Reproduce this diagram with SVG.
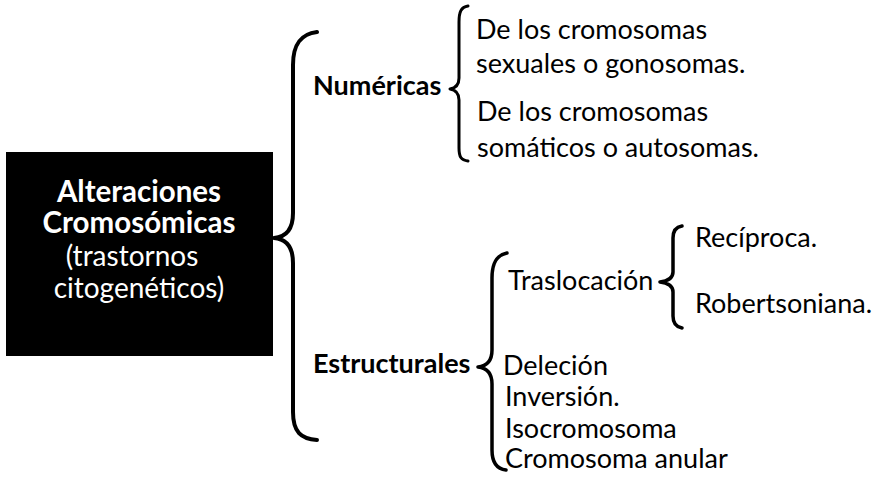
<svg xmlns="http://www.w3.org/2000/svg" width="879" height="478" viewBox="0 0 879 478">
<style>
.t{font-family:Lato,"Open Sans","Liberation Sans",sans-serif;font-size:27px;fill:#000}
.b{font-family:Lato,"Open Sans","Liberation Sans",sans-serif;font-size:27px;font-weight:bold;fill:#000}
.bw{font-family:Lato,"Open Sans","Liberation Sans",sans-serif;font-size:29.5px;font-weight:bold;fill:#fff}
.tw{font-family:Lato,"Open Sans","Liberation Sans",sans-serif;font-size:28px;fill:#fff}
.br{fill:none;stroke:#000;stroke-linecap:round;stroke-linejoin:round}
</style>
<rect width="879" height="478" fill="#fff"/>
<g id="root">
<rect x="6" y="152" width="267" height="204" fill="#000"/>
<text class="bw" x="139" y="202" text-anchor="middle">Alteraciones</text>
<text class="bw" x="139" y="233" text-anchor="middle">Cromosómicas</text>
<text class="tw" x="132" y="266" text-anchor="middle">(trastornos</text>
<text class="tw" x="139" y="298" text-anchor="middle">citogenéticos)</text>
</g>
<g id="connectors">
<path class="br" stroke-width="4" d="M317,32 C301,34 293,44 293,65 L293,213 C293,230 286,237 274,238 C286,239 293,246 293,263 L293,412 C293,432 301,439 317,440"/>
<path class="br" stroke-width="3" d="M468,6 C461,7 459,12 459,22 L459,78 C459,85 456,88 450,89 C456,90 459,93 459,100 L459,148 C459,157 461,160 468,161"/>
<path class="br" stroke-width="3.5" d="M507,253 C497,255 492,262 492,278 L492,350 C492,360 487,366 478,367 C487,368 492,374 492,384 L492,450 C492,463 497,469 506,470"/>
<path class="br" stroke-width="3.5" d="M682,226 C676,227 673,231 673,238 L673,272 C673,278 668,281 660,282 C668,283 673,286 673,292 L673,316 C673,323 676,327 682,328"/>
</g>
<g id="numericas">
<text class="b" x="313" y="95">Numéricas</text>
</g>
<g id="sexuales">
<text class="t" x="476" y="39">De los cromosomas</text>
<text class="t" x="476" y="73">sexuales o gonosomas.</text>
</g>
<g id="somaticos">
<text class="t" x="477" y="121">De los cromosomas</text>
<text class="t" x="477" y="157">somáticos o autosomas.</text>
</g>
<g id="estructurales">
<text class="b" x="313" y="373">Estructurales</text>
</g>
<g id="traslocacion">
<text class="t" x="508" y="290">Traslocación</text>
</g>
<g id="reciproca">
<text class="t" x="695" y="247">Recíproca.</text>
</g>
<g id="robertsoniana">
<text class="t" x="695" y="313">Robertsoniana.</text>
</g>
<g id="delecion">
<text class="t" x="503" y="375">Deleción</text>
</g>
<g id="inversion">
<text class="t" x="505" y="406">Inversión.</text>
</g>
<g id="isocromosoma">
<text class="t" x="505" y="438">Isocromosoma</text>
</g>
<g id="anular">
<text class="t" x="505" y="468">Cromosoma anular</text>
</g>
</svg>
